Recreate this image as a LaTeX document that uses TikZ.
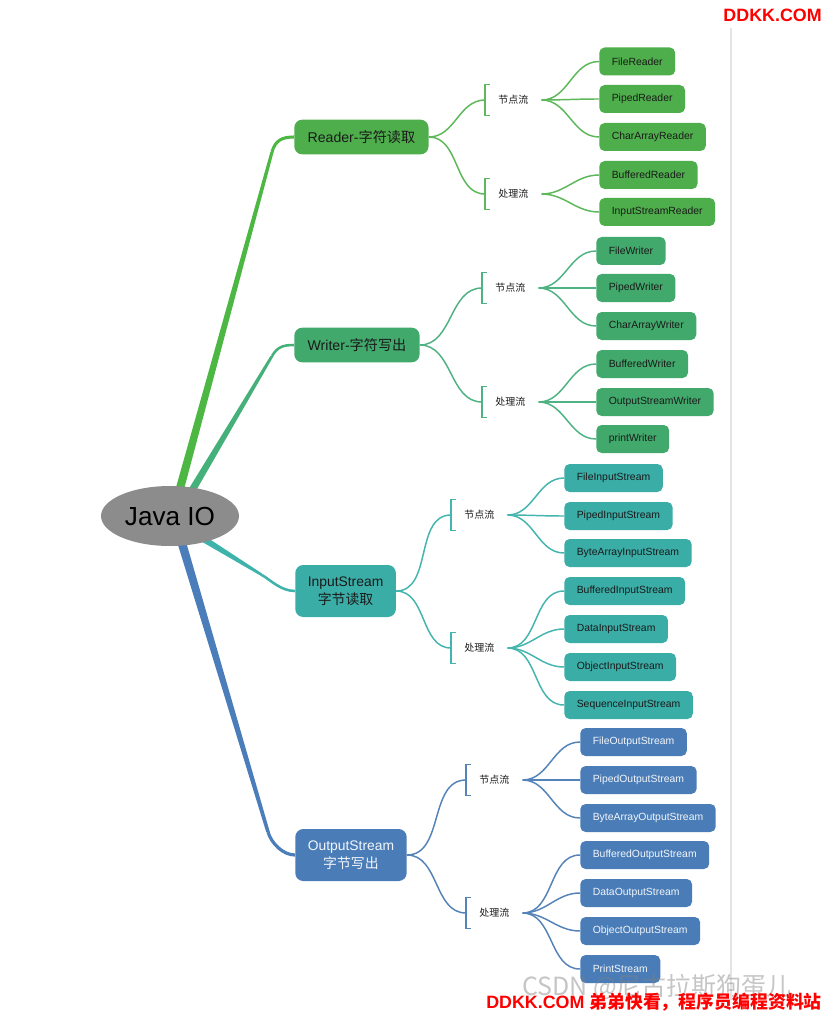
\documentclass[tikz,border=0pt]{standalone}
\usepackage{fontspec}
\setmainfont{Liberation Sans}
\newfontfamily\cjk{Noto Sans CJK SC}
\usetikzlibrary{calc,shapes.geometric}
\pgfdeclarelayer{bg}
\pgfsetlayers{bg,main}
\definecolor{boxR}{HTML}{4DAE4B}
\definecolor{lnR}{HTML}{5DB85A}
\definecolor{tkR}{HTML}{4CB843}
\definecolor{boxW}{HTML}{41A96C}
\definecolor{lnW}{HTML}{4FB283}
\definecolor{tkW}{HTML}{45B07A}
\definecolor{boxI}{HTML}{3AADA7}
\definecolor{lnI}{HTML}{44B5AE}
\definecolor{tkI}{HTML}{3DB3AC}
\definecolor{boxO}{HTML}{4A7DB8}
\definecolor{lnO}{HTML}{5383B8}
\definecolor{tkO}{HTML}{4A7DBA}
\definecolor{rootgray}{HTML}{8C8C8C}
\definecolor{txtdark}{HTML}{1A1A1A}
\definecolor{txtlight}{HTML}{F2F5F9}
\begin{document}
\begin{tikzpicture}[x=0.75pt,y=-0.75pt,
  rootnode/.style={ellipse,fill=rootgray,minimum width=103.5pt,minimum height=45pt,inner sep=0pt,
    text=black,font=\fontsize{19.6}{22}\selectfont},
  mainbox/.style={anchor=west,rounded corners=6pt,minimum height=26pt,inner xsep=10pt,inner ysep=0pt,
    text=txtdark,font=\fontsize{10.6}{13}\selectfont},
  mainboxtwo/.style={anchor=west,rounded corners=6pt,minimum height=39pt,inner xsep=9.4pt,inner ysep=0pt,
    align=center,font=\fontsize{10.4}{13.5}\selectfont},
  leafbox/.style={anchor=west,rounded corners=4pt,minimum height=21pt,inner xsep=9.4pt,inner ysep=0pt,
    font=\fontsize{7.8}{9}\selectfont},
  lbl/.style={anchor=west,inner xsep=9.75pt,inner ysep=0pt,minimum height=22.5pt,text=txtdark,
    font=\cjk\fontsize{7.5}{9}\selectfont},
  thinln/.style={line width=1.1pt},
]
\useasboundingbox (0,0) rectangle (825,1012);
\begin{pgfonlayer}{bg}
\fill[white] (0,0) rectangle (825,1012);
\draw[color={rgb,255:red,228;green,228;blue,228},line width=0.8pt] (731,28) -- (731,1000);
\end{pgfonlayer}

% root
\node[rootnode] (root) at (170,516) {Java IO};

% main boxes
\node[mainbox,fill=boxR] (R) at (294,137) {Reader-{\cjk 字符读取}};
\node[mainbox,fill=boxW] (W) at (294,345) {Writer-{\cjk 字符写出}};
\node[mainboxtwo,fill=boxI,text=txtdark] (I) at (295,591) {InputStream\\{\cjk 字节读取}};
\node[mainboxtwo,fill=boxO,text=txtlight] (O) at (295,855) {OutputStream\\{\cjk 字节写出}};

% labels
\node[lbl] (Rn) at (485,100) {节点流};
\node[lbl] (Rp) at (485,194) {处理流};
\node[lbl] (Wn) at (482,288) {节点流};
\node[lbl] (Wp) at (482,402) {处理流};
\node[lbl] (In) at (451,515) {节点流};
\node[lbl] (Ip) at (451,648) {处理流};
\node[lbl] (On) at (466,780) {节点流};
\node[lbl] (Op) at (466,913) {处理流};

% leaves
\foreach \n/\y/\t in {Rc1/61.5/FileReader,Rc2/99/PipedReader,Rc3/137/CharArrayReader,Rc4/175/BufferedReader,Rc5/212/InputStreamReader}
  \node[leafbox,fill=boxR,text=txtdark] (\n) at (599,\y) {\t};
\foreach \n/\y/\t in {Wc1/251/FileWriter,Wc2/288/PipedWriter,Wc3/326/CharArrayWriter,Wc4/364/BufferedWriter,Wc5/402/OutputStreamWriter,Wc6/439/printWriter}
  \node[leafbox,fill=boxW,text=txtdark] (\n) at (596,\y) {\t};
\foreach \n/\y/\t in {Ic1/478/FileInputStream,Ic2/516/PipedInputStream,Ic3/553/ByteArrayInputStream,Ic4/591/BufferedInputStream,Ic5/629/DataInputStream,Ic6/667/ObjectInputStream,Ic7/705/SequenceInputStream}
  \node[leafbox,fill=boxI,text=txtdark] (\n) at (564,\y) {\t};
\foreach \n/\y/\t in {Oc1/742/FileOutputStream,Oc2/780/PipedOutputStream,Oc3/818/ByteArrayOutputStream,Oc4/855/BufferedOutputStream,Oc5/893/DataOutputStream,Oc6/931/ObjectOutputStream,Oc7/969/PrintStream}
  \node[leafbox,fill=boxO,text=txtlight] (\n) at (580,\y) {\t};

% brackets
\foreach \l/\c in {Rn/lnR,Rp/lnR,Wn/lnW,Wp/lnW,In/lnI,Ip/lnI,On/lnO,Op/lnO}
  \draw[\c,line width=1pt] ([xshift=3.75pt]\l.north west) -- (\l.north west) -- (\l.south west) -- ([xshift=3.75pt]\l.south west);

\begin{pgfonlayer}{bg}
% thick root connectors
\coordinate (rs1) at (179,492); \coordinate (rb1) at (272,152);
\coordinate (rs2) at (191,492); \coordinate (rb2) at (272,356);
\coordinate (rs3) at (202,538); \coordinate (rb3) at (262,575);
\coordinate (rs4) at (181,540); \coordinate (rb4) at (268,832);
\fill[tkR] ($(rs1)+(-4.3,0)$) -- ($(rb1)+(-1.6,0)$) -- ($(rb1)+(1.6,0)$) -- ($(rs1)+(4.3,0)$) -- cycle;
\draw[tkR,line width=2.3pt] (rb1) .. controls +(3.2,-11.6) and +(-12,0) .. (R.west);
\fill[tkW] ($(rs2)+(-4.2,0)$) -- ($(rb2)+(-1.6,0)$) -- ($(rb2)+(1.6,0)$) -- ($(rs2)+(4.2,0)$) -- cycle;
\draw[tkW,line width=1.9pt] (rb2) .. controls +(5.2,-8.5) and +(-12,0) .. (W.west);
\fill[tkI] ($(rs3)+(0,-3.8)$) -- ($(rb3)+(0,-1.5)$) -- ($(rb3)+(0,1.5)$) -- ($(rs3)+(0,3.8)$) -- cycle;
\draw[tkI,line width=1.9pt] (rb3) .. controls +(8.6,5.2) and +(-14,0) .. (I.west);
\fill[tkO] ($(rs4)+(-4.5,0)$) -- ($(rb4)+(-1.8,0)$) -- ($(rb4)+(1.8,0)$) -- ($(rs4)+(4.5,0)$) -- cycle;
\draw[tkO,line width=2.4pt] (rb4) .. controls +(3.5,11.5) and +(-12,0) .. (O.west);

% thin connectors
\foreach \m/\l/\c in {R/Rn/lnR,R/Rp/lnR,W/Wn/lnW,W/Wp/lnW,I/In/lnI,I/Ip/lnI,O/On/lnO,O/Op/lnO}
  \draw[\c,thinln] (\m.east) to[out=0,in=180] (\l.west);
\foreach \c in {Rc1,Rc2,Rc3} \draw[lnR,thinln] (Rn.east) to[out=0,in=180] (\c.west);
\foreach \c in {Rc4,Rc5} \draw[lnR,thinln] (Rp.east) to[out=0,in=180] (\c.west);
\foreach \c in {Wc1,Wc2,Wc3} \draw[lnW,thinln] (Wn.east) to[out=0,in=180] (\c.west);
\foreach \c in {Wc4,Wc5,Wc6} \draw[lnW,thinln] (Wp.east) to[out=0,in=180] (\c.west);
\foreach \c in {Ic1,Ic2,Ic3} \draw[lnI,thinln] (In.east) to[out=0,in=180] (\c.west);
\foreach \c in {Ic4,Ic5,Ic6,Ic7} \draw[lnI,thinln] (Ip.east) to[out=0,in=180] (\c.west);
\foreach \c in {Oc1,Oc2,Oc3} \draw[lnO,thinln] (On.east) to[out=0,in=180] (\c.west);
\foreach \c in {Oc4,Oc5,Oc6,Oc7} \draw[lnO,thinln] (Op.east) to[out=0,in=180] (\c.west);
\end{pgfonlayer}

% watermarks
\node[anchor=base west,inner sep=0pt,text=gray,opacity=0.45,font=\cjk\fontsize{18.75}{20}\selectfont] (wm) at (522,995) {CSDN @尼古拉斯狗蛋儿};
\node[anchor=base east,inner sep=0pt,text=red,font=\bfseries\fontsize{13.4}{15}\selectfont] (top) at (822,22) {DDKK.COM};
\node[anchor=base east,inner sep=0pt,text=red,font=\bfseries\fontsize{13.4}{15}\selectfont] (bot) at (822,1008) {DDKK.COM {\cjk 弟弟快看，程序员编程资料站}};
\end{tikzpicture}
\end{document}
